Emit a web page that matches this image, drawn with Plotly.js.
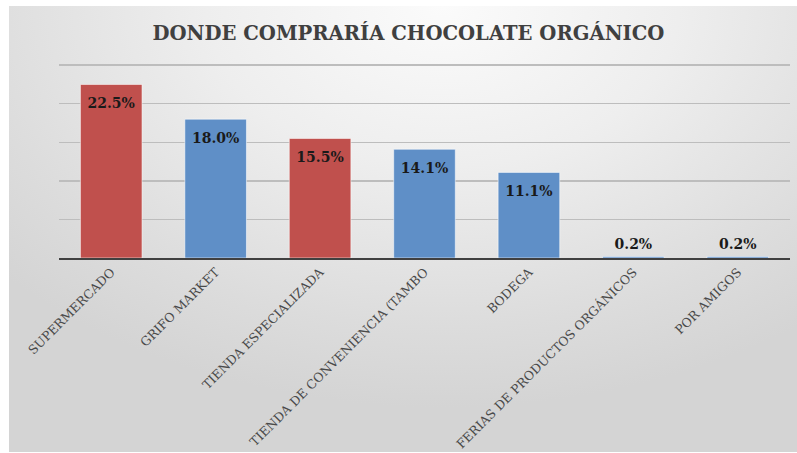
<!DOCTYPE html>
<html>
<head>
<meta charset="utf-8">
<script src="https://cdn.plot.ly/plotly-3.0.1.min.js"></script>
<style>
  html, body { margin: 0; padding: 0; background: #ffffff; }
  #wrap { position: relative; width: 797px; height: 453px; overflow: hidden; }
  #bg { position: absolute; left: 9px; top: 6px; width: 788px; height: 446px;
        background: radial-gradient(ellipse 75% 90% at 55% 0%, #fbfbfb 0%, #eeeeee 40%, #dcdcdc 80%, #d4d4d4 100%); }
  #chart { position: absolute; left: 0; top: 0; width: 797px; height: 453px; }
</style>
</head>
<body>
<div id="wrap">
  <div id="bg"></div>
  <div id="chart"></div>
</div>
<script>
const categories = [
  "SUPERMERCADO",
  "GRIFO MARKET",
  "TIENDA ESPECIALIZADA",
  "TIENDA DE CONVENIENCIA (TAMBO",
  "BODEGA",
  "FERIAS DE PRODUCTOS ORGÁNICOS",
  "POR AMIGOS"
];
const values = [22.5, 18.0, 15.5, 14.1, 11.1, 0.2, 0.2];
const valueLabels = ["22.5%", "18.0%", "15.5%", "14.1%", "11.1%", "0.2%", "0.2%"];
const barColors = ["#C0504D", "#5F8FC7", "#C0504D", "#5F8FC7", "#5F8FC7", "#5F8FC7", "#5F8FC7"];
const labelPositions = ["bottom center", "bottom center", "bottom center", "bottom center", "bottom center", "top center", "top center"];
const labelOffsets = [19, 19, 19, 19, 19, 5, 5];

const serif = "DejaVu Serif, Liberation Serif, serif";

const bars = {
  type: "bar",
  x: categories,
  y: values,
  marker: { color: barColors, line: { color: "rgba(255,255,255,0.55)", width: 1 } },
  hoverinfo: "skip",
  showlegend: false
};

const labels = {
  type: "scatter",
  mode: "markers+text",
  x: categories,
  y: values,
  text: valueLabels,
  textposition: labelPositions,
  textfont: { family: serif, size: 14, color: "#1a1a1a", weight: "bold" },
  marker: { size: labelOffsets, opacity: 0 },
  cliponaxis: false,
  hoverinfo: "skip",
  showlegend: false
};

const layout = {
  width: 797,
  height: 453,
  paper_bgcolor: "rgba(0,0,0,0)",
  plot_bgcolor: "rgba(0,0,0,0)",
  margin: { l: 59, r: 7, t: 64, b: 195 },
  bargap: 0.41,
  title: {
    text: "<b>DONDE COMPRARÍA CHOCOLATE ORGÁNICO</b>",
    font: { family: serif, size: 19.6, color: "#404040" },
    x: 0.5125, xref: "container", xanchor: "center",
    y: 0.927, yref: "container", yanchor: "middle"
  },
  xaxis: {
    tickangle: -45,
    tickfont: { family: serif, size: 12.5, color: "#4a4a4a" },
    showline: true, linecolor: "#404040", linewidth: 2,
    ticks: "", showgrid: false, fixedrange: true
  },
  yaxis: {
    range: [0, 25.15],
    tickvals: [5, 10, 15, 20, 25],
    showticklabels: false,
    showgrid: true, gridcolor: "#bdbdbd", gridwidth: 1.5,
    zeroline: false, ticks: "", fixedrange: true
  }
};

Plotly.newPlot("chart", [bars, labels], layout, { displayModeBar: false, staticPlot: true });
</script>
</body>
</html>
